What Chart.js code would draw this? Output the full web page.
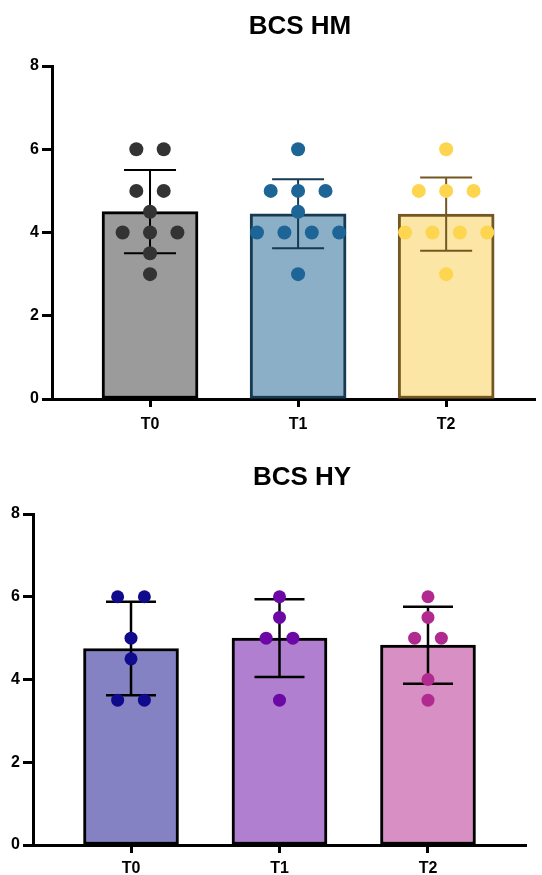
<!DOCTYPE html>
<html>
<head>
<meta charset="utf-8">
<script src="https://cdn.jsdelivr.net/npm/chart.js@4.4.1/dist/chart.umd.min.js"></script>
<style>
  html, body { margin: 0; padding: 0; background: #ffffff; }
  #wrap { position: relative; width: 542px; height: 875px; overflow: hidden; }
  canvas { position: absolute; left: 0; }
  #c1 { top: 0; }
  #c2 { top: 450px; }
</style>
</head>
<body>
<div id="wrap">
  <canvas id="c1" width="542" height="450"></canvas>
  <canvas id="c2" width="542" height="425"></canvas>
</div>
<script>
// ---------- data ----------
const categories = ['T0', 'T1', 'T2'];
const yTicks = [0, 2, 4, 6, 8];

// BCS HM
const hmMeans = [4.5, 4.45, 4.44];
const hmSD = [1.0, 0.83, 0.88];
const hmT0 = [6, 6, 5, 5, 4.5, 4, 4, 4, 3.5, 3];
const hmT1 = [6, 5, 5, 5, 4.5, 4, 4, 4, 4, 3];
const hmT2 = [6, 5, 5, 5, 4, 4, 4, 4, 3];

// BCS HY
const hyMeans = [4.75, 5.0, 4.83];
const hySD = [1.13, 0.94, 0.93];
const hyT0 = [6, 6, 5, 4.5, 3.5, 3.5];
const hyT1 = [6, 5.5, 5, 5, 3.5];
const hyT2 = [6, 5.5, 5, 5, 4, 3.5];

// ---------- styles ----------
const FONT = "'Liberation Sans', Arial, Helvetica, sans-serif";
const hmStyle = {
  fill: ['#9b9b9b', '#8cafc8', '#fbe6a6'],
  border: ['#000000', '#163a52', '#745823'],
  dots: ['#333333', '#1d6497', '#fdd54f'],
  err: ['#000000', '#163a52', '#745823']
};
const hyStyle = {
  fill: ['#8482c3', '#b17fd0', '#d88fc3'],
  border: ['#000000', '#000000', '#000000'],
  dots: ['#100a8c', '#6b08a6', '#b12a8f'],
  err: ['#000000', '#000000', '#000000']
};

// spread identical values side by side (beeswarm-like)
function swarm(values, catIndex, spread) {
  const counts = {};
  values.forEach(v => { counts[v] = (counts[v] || 0) + 1; });
  const seen = {};
  return values.map(v => {
    const k = seen[v] || 0;
    seen[v] = k + 1;
    const n = counts[v];
    return { x: catIndex + (k - (n - 1) / 2) * spread, y: v };
  });
}

const errorBarPlugin = {
  id: 'errorBars',
  afterDatasetDraw(chart, args) {
    const ds = chart.data.datasets[args.index];
    if (!ds.sd) return;
    const meta = args.meta;
    const ys = chart.scales.y;
    const ctx = chart.ctx;
    ctx.save();
    meta.data.forEach((el, i) => {
      const m = ds.data[i].y, s = ds.sd[i];
      const yt = ys.getPixelForValue(m + s);
      const yb = ys.getPixelForValue(m - s);
      const hw = ds.capHalf;
      ctx.strokeStyle = ds.errColor[i];
      ctx.lineWidth = ds.errWidth;
      ctx.lineCap = 'butt';
      ctx.beginPath();
      ctx.moveTo(el.x, yt); ctx.lineTo(el.x, yb);
      ctx.moveTo(el.x - hw, yt); ctx.lineTo(el.x + hw, yt);
      ctx.moveTo(el.x - hw, yb); ctx.lineTo(el.x + hw, yb);
      ctx.stroke();
    });
    ctx.restore();
  }
};

const titlePlugin = {
  id: 'offsetTitle',
  afterDraw(chart, args, opts) {
    const ctx = chart.ctx;
    ctx.save();
    ctx.font = 'bold 26px ' + FONT;
    ctx.fillStyle = '#000000';
    ctx.textAlign = 'center';
    ctx.textBaseline = 'middle';
    ctx.fillText(opts.text, opts.x, opts.y);
    ctx.restore();
  }
};

function makeChart(id, o) {
  const barData = categories.map((c, i) => ({ x: i, y: o.means[i] }));
  const datasets = [{
    type: 'bar',
    data: barData,
    sd: o.sd,
    errColor: o.style.err,
    errWidth: o.errWidth,
    capHalf: o.capHalf,
    backgroundColor: o.style.fill,
    borderColor: o.style.border,
    borderWidth: 3,
    borderSkipped: false,
    barThickness: o.barThickness,
    order: 2
  }];
  o.points.forEach((vals, i) => {
    datasets.push({
      type: 'scatter',
      data: swarm(vals, i, o.spread),
      backgroundColor: o.style.dots[i],
      borderWidth: 0,
      pointRadius: o.radius,
      pointHoverRadius: o.radius,
      order: 1
    });
  });
  return new Chart(document.getElementById(id), {
    type: 'bar',
    data: { datasets },
    plugins: [errorBarPlugin, titlePlugin],
    options: {
      responsive: false,
      animation: false,
      devicePixelRatio: 1,
      layout: { padding: { left: 0, right: o.padRight, top: o.padTop, bottom: 0 } },
      plugins: {
        legend: { display: false },
        tooltip: { enabled: false },
        title: { display: false },
        offsetTitle: { text: o.title, x: o.titleX, y: o.titleY }
      },
      scales: {
        x: {
          type: 'linear',
          min: o.xMin,
          max: o.xMax,
          offset: false,
          afterBuildTicks: s => { s.ticks = categories.map((c, i) => ({ value: i })); },
          afterFit: s => { s.height = o.xHeight; },
          ticks: {
            callback: v => categories[v],
            autoSkip: false,
            maxRotation: 0,
            color: '#000000',
            padding: o.xTickPad,
            font: { family: FONT, size: 16, weight: 'bold' }
          },
          grid: {
            display: true,
            offset: false,
            drawOnChartArea: false,
            drawTicks: true,
            tickLength: 8,
            tickWidth: 3,
            tickColor: '#000000'
          },
          border: { display: true, color: '#000000', width: 3 }
        },
        y: {
          min: 0,
          max: 8,
          afterBuildTicks: s => { s.ticks = yTicks.map(v => ({ value: v })); },
          afterFit: s => { s.width = o.yWidth; },
          ticks: {
            color: '#000000',
            padding: 3,
            font: { family: FONT, size: 16, weight: 'bold' }
          },
          grid: {
            display: true,
            offset: false,
            drawOnChartArea: false,
            drawTicks: true,
            tickLength: 10,
            tickWidth: 3,
            tickColor: '#000000'
          },
          border: { display: true, color: '#000000', width: 3 }
        }
      }
    }
  });
}

makeChart('c1', {
  title: 'BCS HM', titleX: 300, titleY: 27,
  means: hmMeans, sd: hmSD,
  points: [hmT0, hmT1, hmT2],
  style: hmStyle,
  xMin: -0.662, xMax: 2.6,
  padRight: 2, padTop: 66,
  yWidth: 52, xHeight: 51, xTickPad: 8,
  barThickness: 96, capHalf: 26, errWidth: 2,
  radius: 7, spread: 0.185
});

makeChart('c2', {
  title: 'BCS HY', titleX: 302, titleY: 28,
  means: hyMeans, sd: hySD,
  points: [hyT0, hyT1, hyT2],
  style: hyStyle,
  xMin: -0.66, xMax: 2.66,
  padRight: 16, padTop: 64,
  yWidth: 33, xHeight: 30, xTickPad: 6,
  barThickness: 95, capHalf: 25, errWidth: 2.5,
  radius: 6.5, spread: 0.18
});
</script>
</body>
</html>
